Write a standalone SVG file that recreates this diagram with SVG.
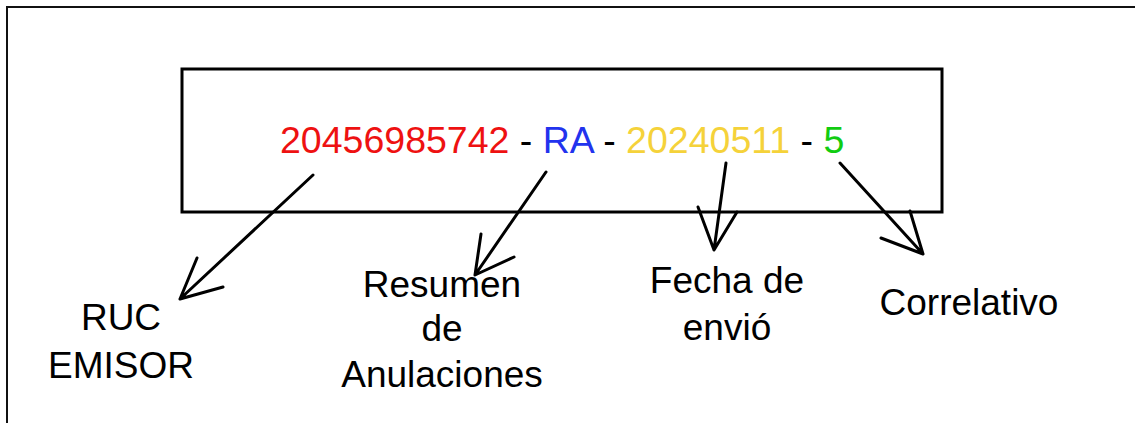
<svg xmlns="http://www.w3.org/2000/svg" width="1135" height="423" viewBox="0 0 1135 423">
<style>
.t{font-family:"Liberation Sans",Arial,sans-serif;font-size:37px;fill:#000}
.c{text-anchor:middle}
.ln{stroke:#000;stroke-width:3;fill:none;stroke-linecap:round;stroke-linejoin:round}
</style>
<rect width="1135" height="423" fill="#fff"/>
<g id="frame">
<path d="M7 423 V7 H1135" fill="none" stroke="#111" stroke-width="2"/>
</g>
<g id="code">
<rect x="182" y="69" width="760" height="143" fill="none" stroke="#000" stroke-width="3"/>
<text class="t" x="280" y="153" style="font-size:37.5px"><tspan fill="#EE1111">20456985742</tspan> - <tspan fill="#2233EE">RA</tspan> - <tspan fill="#F5D23A">20240511</tspan> - <tspan fill="#11CC11">5</tspan></text>
</g>
<g id="connectors">
<path class="ln" d="M313 175 L180 299 M197 258 L180 299 L223 287"/>
<path class="ln" d="M546 172 L475 275 M481 234 L475 275 L514 257"/>
<path class="ln" d="M726 163 L714 250 M698 207 L714 250 L737 212"/>
<path class="ln" d="M840 163 L923 254 M910 211 L923 254 L881 238"/>
</g>
<g id="ruc">
<text class="t c" x="121" y="330">RUC</text>
<text class="t c" x="121" y="378">EMISOR</text>
</g>
<g id="resumen">
<text class="t c" x="442" y="297">Resumen</text>
<text class="t c" x="442" y="341">de</text>
<text class="t c" x="442" y="387">Anulaciones</text>
</g>
<g id="fecha">
<text class="t c" x="727" y="293">Fecha de</text>
<text class="t c" x="727" y="340">envió</text>
</g>
<g id="correlativo">
<text class="t c" x="969" y="315">Correlativo</text>
</g>
</svg>
